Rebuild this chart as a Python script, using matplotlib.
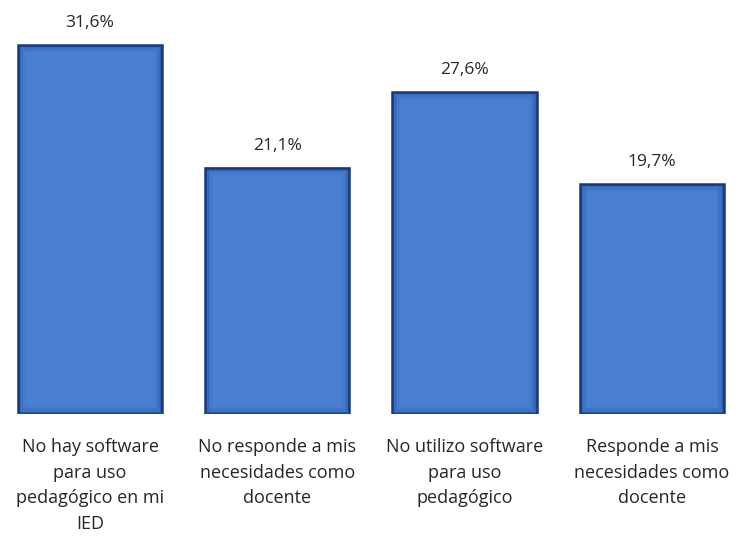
import matplotlib.pyplot as plt
from matplotlib.patches import Rectangle

categories = [
    "No hay software\npara uso\npedagógico en mi\nIED",
    "No responde a mis\nnecesidades como\ndocente",
    "No utilizo software\npara uso\npedagógico",
    "Responde a mis\nnecesidades como\ndocente",
]
values = [31.6, 21.1, 27.6, 19.7]
value_labels = ["31,6%", "21,1%", "27,6%", "19,7%"]

W, H = 739, 539
fig = plt.figure(figsize=(W / 100, H / 100), dpi=100)
base_px = 414
ax = fig.add_axes([0, 1 - base_px / H, 1, base_px / H])
px_per_unit = 11.68
ax.set_ylim(0, base_px / px_per_unit)
spacing = 187.3
ax.set_xlim(-90 / spacing, (W - 90) / spacing)
ax.axis("off")

width = 0.77
x = list(range(len(values)))
bars = ax.bar(x, values, width=width, color="#4A80D2", edgecolor="#17397A", linewidth=1.8, zorder=2)

# inner shading along bar edges for a bevelled look
for b in bars:
    bx, by = b.get_x(), b.get_y()
    bw, bh = b.get_width(), b.get_height()
    for i, a in enumerate([0.40, 0.26, 0.15, 0.08, 0.04]):
        dx = (i + 0.6) * 1.5 / spacing
        dy = (i + 0.6) * 1.5 / px_per_unit
        ax.add_patch(Rectangle((bx + dx, by + dy), bw - 2 * dx, bh - 2 * dy,
                               fill=False, edgecolor="#143A80", linewidth=1.5,
                               alpha=a, zorder=3))

font = ["Open Sans", "DejaVu Sans"]
for xi, v, lab in zip(x, values, value_labels):
    ax.text(xi, v + 14 / px_per_unit, lab, ha="center", va="bottom",
            fontsize=12.5, family=font, color="#262626")

for xi, cat in zip(x, categories):
    ax.text(xi, -24 / px_per_unit, cat, ha="center", va="top",
            fontsize=13, family=font, color="#262626", linespacing=1.55,
            clip_on=False)

fig.savefig("out.png", dpi=100, facecolor="white")
